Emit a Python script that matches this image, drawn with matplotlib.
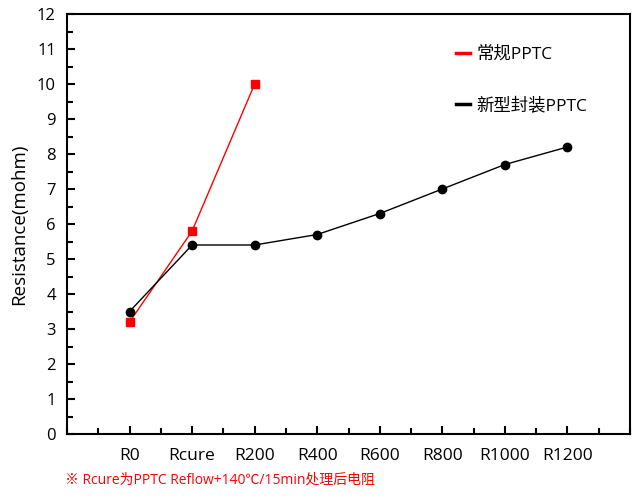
import numpy as np
import matplotlib.pyplot as plt
from matplotlib.ticker import MultipleLocator

plt.rcParams['font.family'] = ['Open Sans', 'Noto Sans CJK SC', 'DejaVu Sans']

categories = ['R0', 'Rcure', 'R200', 'R400', 'R600', 'R800', 'R1000', 'R1200']
old_values = [3.2, 5.8, 10.0]
new_values = [3.5, 5.4, 5.4, 5.7, 6.3, 7.0, 7.7, 8.2]

fig = plt.figure(figsize=(6.44, 4.99), dpi=100)
ax = fig.add_axes([67 / 644, 65 / 499, 563 / 644, 420 / 499])

x_old = np.arange(len(old_values))
x_new = np.arange(len(new_values))
ax.plot(x_old, old_values, color='red', lw=1, marker='s', ms=6, label='常规PPTC')
ax.plot(x_new, new_values, color='black', lw=1, marker='o', ms=6, label='新型封装PPTC')

ax.set_xlim(-1, 8)
ax.set_ylim(0, 12)
ax.set_xticks(x_new)
ax.set_xticklabels(categories, fontsize=12.5)
ax.xaxis.set_minor_locator(MultipleLocator(0.5))
ax.yaxis.set_major_locator(MultipleLocator(1))
ax.yaxis.set_minor_locator(MultipleLocator(0.5))
ax.tick_params(which='both', direction='in', width=1.5, labelsize=12)
ax.tick_params(axis='x', labelsize=12.5)
ax.tick_params(which='major', length=6)
ax.tick_params(which='minor', length=4)
ax.tick_params(axis='x', pad=10)
ax.tick_params(axis='y', pad=8)
for s in ax.spines.values():
    s.set_linewidth(1.5)

ax.set_ylabel('Resistance(mohm)', fontsize=13.5, labelpad=6)

leg = ax.legend(loc='upper left', bbox_to_anchor=(0.663, 0.96), frameon=False,
                handlelength=0.8, handletextpad=0.4, labelspacing=2.0, fontsize=12.5,
                markerscale=0)
for h in leg.get_lines():
    h.set_marker('')
    h.set_linewidth(2.5)

fig.text(65 / 644, 1 - 480 / 499, '※ Rcure为PPTC Reflow+140℃/15min处理后电阻',
         color='red', fontsize=10, va='center')

fig.savefig('out.png', dpi=100)
